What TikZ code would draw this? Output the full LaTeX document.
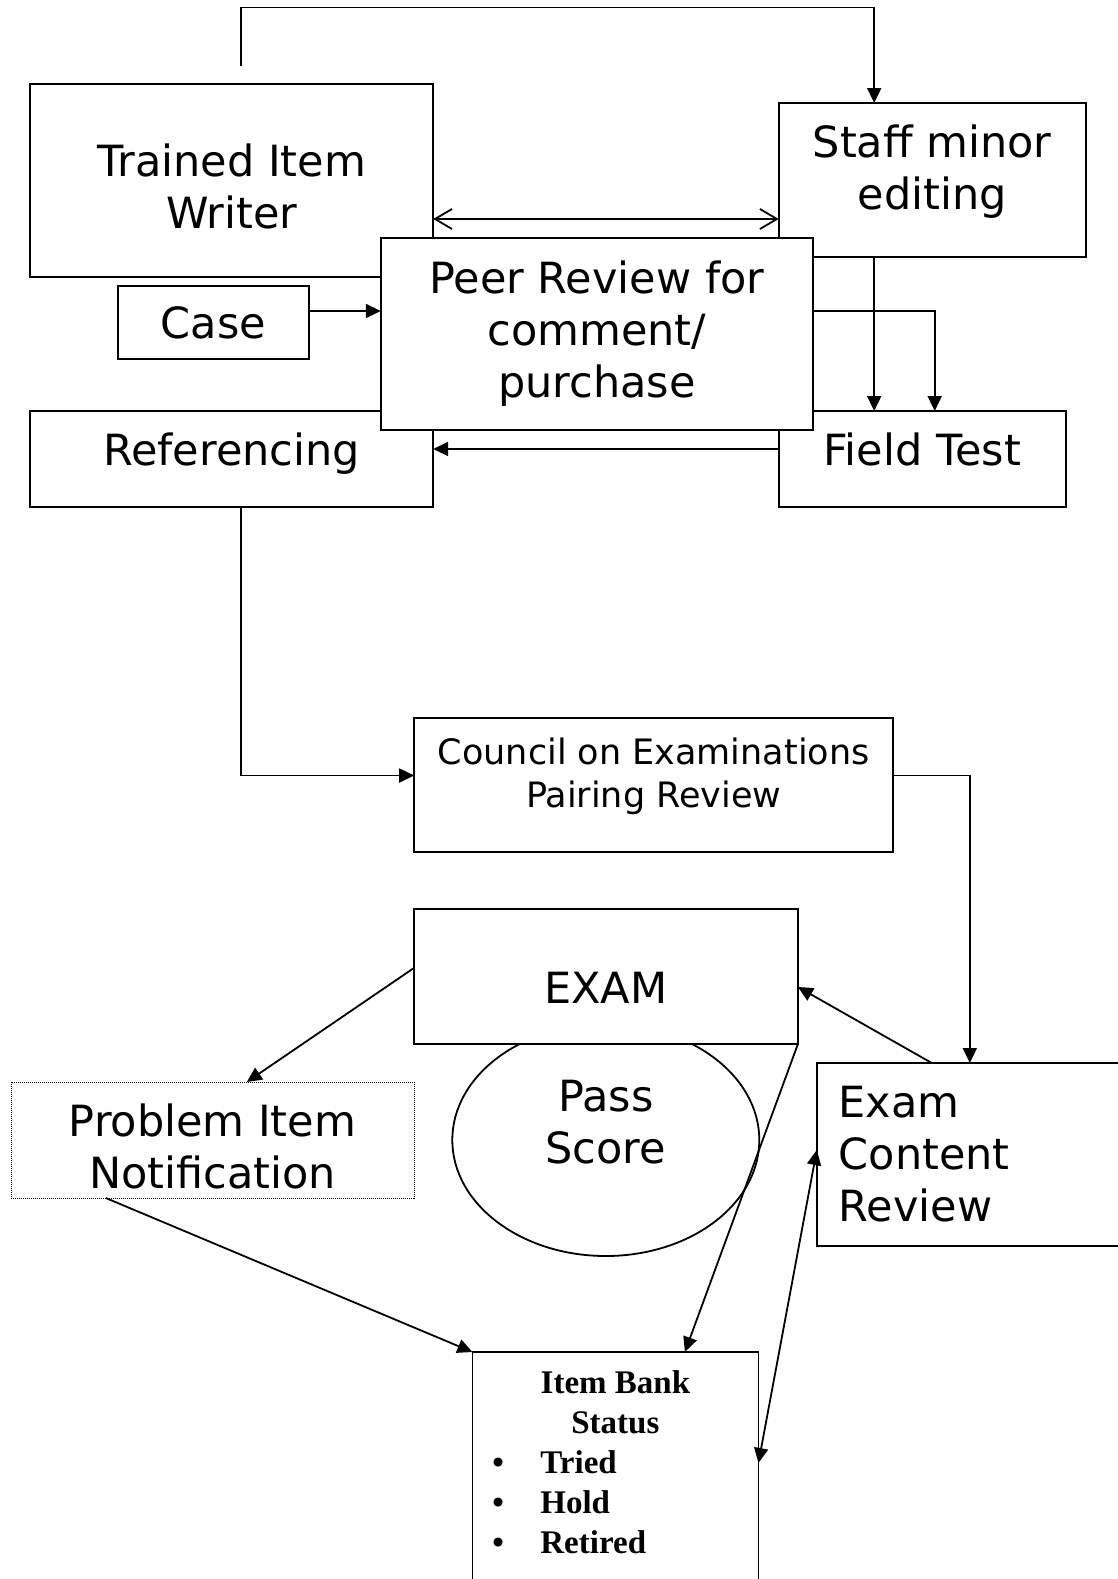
\documentclass[tikz,border=0pt]{standalone}
\usepackage{fontspec}
\setmainfont{DejaVu Sans}
\newfontfamily\bankfont{Liberation Serif}
\usetikzlibrary{shapes.geometric, arrows.meta}
\newcommand*{\pageW}{1117}
\newcommand*{\pageH}{1579}
\newcommand\BankItem[1]{\makebox[246pt][l]{\makebox[48pt][l]{\textbullet}#1}}

\begin{document}
\begin{tikzpicture}[x=1pt, y=-1pt, line width=1.8pt,
	every node/.style={draw, fill=white, rectangle, inner sep=0pt, outer sep=0pt, align=center, font=\fontsize{43}{52}\selectfont},
	small/.style={font=\fontsize{35}{43}\selectfont},
	arr/.style={-{Triangle[length=15pt, width=14pt]}},
	dblarr/.style={{Triangle[length=15pt, width=14pt]}-{Triangle[length=15pt, width=14pt]}},
	openarr/.style={{Straight Barb[length=17pt, width=20pt]}-{Straight Barb[length=17pt, width=20pt]}}]
	\useasboundingbox (0,0) rectangle (\pageW,\pageH);
	\fill[white] (0,0) rectangle (\pageW,\pageH);
% boxes
	\node[ellipse, minimum width=307pt, minimum height=232pt, text depth=37pt] (pass) at (605.8,1140) {Pass\\Score};
	\node[minimum width=403pt, minimum height=193pt, text height=97pt] (writer) at (231.7,180.5) {Trained Item\\Writer};
	\node[minimum width=307pt, minimum height=154pt, text depth=26pt] (staff) at (932.2,180) {Staff minor\\editing};
	\node[minimum width=191pt, minimum height=73pt] (case) at (213.5,322.5) {Case};
	\node[minimum width=403pt, minimum height=96pt, text depth=20pt] (ref) at (231.7,459) {Referencing};
	\node[minimum width=287pt, minimum height=96pt, text depth=20pt] (field) at (922.1,459) {Field Test};
	\node[minimum width=432pt, minimum height=192pt] (peer) at (596.8,334) {Peer Review for\\comment/\\purchase};
	\node[small, minimum width=479pt, minimum height=134pt, text depth=24pt] (council) at (653.7,785) {Council on Examinations\\Pairing Review};
	\node[minimum width=384pt, minimum height=135pt, text height=53pt] (exam) at (605.9,976.5) {EXAM};
	\node[densely dotted, line width=1pt, minimum width=403pt, minimum height=116pt, text height=98pt] (notify) at (212.5,1140) {Problem Item\\Notification};
	\node[anchor=west, minimum height=183pt, text width=300pt, inner xsep=22pt, align=left] (content) at (816.8,1154.5) {Exam\\Content\\Review};
	\node[anchor=north, minimum width=286pt, inner ysep=19pt, text depth=60pt, font=\bankfont\bfseries\fontsize{33}{40}\selectfont] (bank) at (615.4,1352)
		{Item Bank\\Status\\\BankItem{Tried}\\\BankItem{Hold}\\\BankItem{Retired}};
% connectors
	\coordinate (start) at (240.7,66);
	\draw[arr] (start) -- ++(0,-58.5) -| ([xshift=-58pt]staff.north);
	\draw[openarr] ([yshift=-38.5pt]writer.east) -- ([yshift=-38.5pt]writer.east -| staff.west);
	\draw[arr] ([yshift=11.5pt]case.east) -- ([yshift=11.5pt]case.east -| peer.west);
	\draw[arr] ([xshift=-58pt]staff.south) -- ([xshift=-58pt]staff.south |- field.north);
	\draw[arr] ([yshift=23pt]peer.east) -| ([xshift=12.6pt]field.north);
	\draw[arr] ([yshift=10pt]field.west) -- ([yshift=10pt]field.west -| ref.east);
	\draw[arr] ([xshift=9pt]ref.south) |- ([yshift=9.5pt]council.west);
	\draw[arr] ([yshift=9.5pt]council.east) -| ([xshift=153pt]content.north west);
	\draw[arr] ([xshift=115pt]content.north west) -- ([yshift=-10.5pt]exam.east);
	\draw[arr] ([yshift=8.5pt]exam.west) -- ([xshift=34.3pt]notify.north);
	\draw[arr] ([xshift=-106.7pt]notify.south) -- (bank.north west);
	\draw[arr] (exam.south east) -- ([xshift=69.5pt]bank.north);
	\draw[dblarr] ([yshift=4.5pt]content.west) -- ([yshift=-111pt]bank.north east);
\end{tikzpicture}
\end{document}
